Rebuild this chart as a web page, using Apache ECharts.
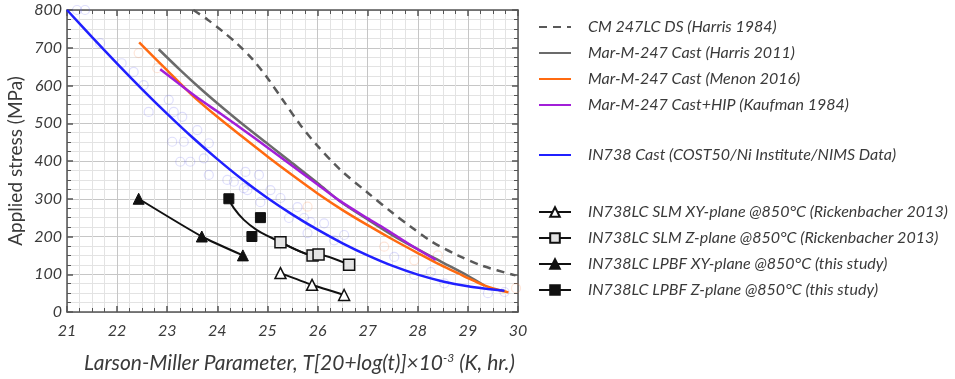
<!DOCTYPE html>
<html>
<head>
<meta charset="utf-8">
<script src="https://cdn.jsdelivr.net/npm/echarts@6/dist/echarts.min.js"></script>
<style>
  html, body { margin: 0; padding: 0; background: #fff; }
  #chart { width: 955px; height: 379px; }
</style>
</head>
<body>
<div id="chart"></div>
<script>
// Larson-Miller parameter (x) vs applied stress in MPa (y)
const cm247DS = [[23.52,800],[23.8,775],[24.1,744],[24.4,710],[24.7,670],[25.0,620],[25.3,563],[25.66,495],[26.0,440],[26.46,376],[27.0,316],[27.5,262],[27.86,226],[28.26,188],[28.8,150],[29.3,122],[29.95,97]];
const marM247Harris = [[22.83,696],[23.25,642],[23.66,592],[24.0,553],[24.5,498],[25.0,446],[25.5,394],[26.0,342],[26.46,292],[27.0,245],[27.5,203],[28.0,166],[28.5,131],[29.0,96],[29.33,70]];
const marM247Menon = [[22.44,714],[23.0,640],[23.5,574],[24.0,517],[24.5,464],[25.0,412],[25.5,362],[26.0,314],[26.5,270],[27.0,230],[27.5,192],[28.0,156],[28.4,128],[28.8,103],[29.0,90],[29.3,72],[29.6,59],[29.81,52]];
const marM247HIP = [[22.86,643],[23.25,603],[23.66,562],[24.06,526],[24.5,484],[25.0,436],[25.5,387],[26.0,338],[26.46,293],[27.0,248],[27.33,222],[27.8,182],[28.36,138]];
const in738Cast = [[21.0,800],[21.5,728],[22.0,658],[22.5,590],[23.0,525],[23.5,463],[24.0,405],[24.5,351],[25.0,302],[25.5,258],[26.0,218],[26.5,182],[27.0,150],[27.5,122],[28.0,99],[28.5,81],[29.0,68],[29.4,61],[29.73,56]];

// IN738 cast individual rupture points and Mar-M-247 points (faint background data)
const in738Points = [[21.2,800],[21.36,800],[21.66,712],[22.09,659],[22.33,636],[22.53,601],[23.03,562],[22.63,530],[23.13,530],[23.3,517],[23.1,451],[23.33,451],[23.6,482],[23.83,447],[23.26,398],[23.46,398],[23.73,407],[23.83,363],[24.2,350],[24.33,345],[24.56,371],[24.6,323],[24.86,291],[25.26,302],[25.6,278],[25.43,249],[25.73,249],[25.86,238],[26.13,235],[25.8,209],[26.33,190],[26.53,204],[24.53,328],[24.83,363],[25.06,323],[27.53,146],[27.93,98],[28.26,106],[28.53,76],[29.4,50],[29.73,53]];
const marM247Points = [[22.43,686],[22.8,646],[25.8,279],[27.33,173],[27.93,137],[28.4,150],[29.96,63]];

// Additively manufactured IN738LC at 850 °C
const slmXY = [[25.26,103],[25.89,72],[26.53,45]];
const slmZ = [[25.26,185],[25.9,150],[26.02,152],[26.63,125]];
const lpbfXY = [[22.43,300],[23.69,200],[24.51,150]];
const lpbfZ = [[24.23,300],[24.69,200],[24.86,250]];
const lpbfZTrend = [[24.23,300],[24.33,275],[24.53,244],[24.79,217],[25.06,198],[25.26,185],[25.66,160],[25.86,151]];

const xTicks = { min: 21, max: 30, step: 1 };
const yTicks = { min: 0, max: 800, step: 100 };

const names = [
  'CM 247LC DS (Harris 1984)',
  'Mar-M-247 Cast (Harris 2011)',
  'Mar-M-247 Cast (Menon 2016)',
  'Mar-M-247 Cast+HIP (Kaufman 1984)',
  'IN738 Cast (COST50/Ni Institute/NIMS Data)',
  'IN738LC SLM XY-plane @850°C (Rickenbacher 2013)',
  'IN738LC SLM Z-plane @850°C (Rickenbacher 2013)',
  'IN738LC LPBF XY-plane @850°C (this study)',
  'IN738LC LPBF Z-plane @850°C (this study)'
];

const FONT = 'Lato';
const TXT = '#3a3a3a';
const AXIS = '#555';

function mainAxis(extra) {
  return Object.assign({
    type: 'value',
    axisLine: { show: true, onZero: false, lineStyle: { color: AXIS, width: 1.5 } },
    axisTick: { show: true, inside: true, length: 6, lineStyle: { color: AXIS, width: 1.5 } },
    minorTick: { show: true, splitNumber: 4, length: 4, lineStyle: { color: AXIS, width: 1 } },
    splitLine: { show: true, lineStyle: { color: '#c6c6c6', width: 1 } },
    minorSplitLine: { show: true, lineStyle: { color: '#e3e3e3', width: 1 } }
  }, extra);
}
function mirrorAxis(extra) {
  return Object.assign({
    type: 'value',
    axisLine: { show: true, onZero: false, lineStyle: { color: AXIS, width: 1.5 } },
    axisTick: { show: true, inside: true, length: 6, lineStyle: { color: AXIS, width: 1.5 } },
    minorTick: { show: true, splitNumber: 4, length: 4, lineStyle: { color: AXIS, width: 1 } },
    axisLabel: { show: false },
    splitLine: { show: false },
    minorSplitLine: { show: false }
  }, extra);
}

// plain-line entries hide the legend marker, keeping only the line
const noMark = { color: 'rgba(0,0,0,0)', borderColor: 'rgba(0,0,0,0)', borderWidth: 0 };
function lineOnly(name) { return { name: name, itemStyle: noMark }; }

const legendText = { fontFamily: FONT, fontStyle: 'italic', fontSize: 16, color: TXT, padding: [0, 0, 0, 12] };
function legendBlock(top, data) {
  return {
    orient: 'vertical', left: 533, top: top, itemGap: 10, itemWidth: 32, itemHeight: 12,
    textStyle: legendText, data: data, selectedMode: false
  };
}

function curve(name, data, color, dashed) {
  return {
    type: 'line', name: name, data: data, smooth: 0.3, showSymbol: false, symbol: 'circle', z: 3,
    lineStyle: { color: color, width: 2.5, type: dashed ? [8, 6] : 'solid' }, itemStyle: { color: color }
  };
}

const chart = echarts.init(document.getElementById('chart'), null, { renderer: 'canvas' });
chart.setOption({
  animation: false,
  backgroundColor: '#fff',
  grid: { left: 67, right: 437, top: 10, bottom: 67, containLabel: false },
  legend: [
    legendBlock(14, names.slice(0, 4).map(lineOnly)),
    legendBlock(142, names.slice(4, 5).map(lineOnly)),
    legendBlock(199, names.slice(5, 9))
  ],
  xAxis: [
    mainAxis({
      position: 'bottom', min: xTicks.min, max: xTicks.max, interval: xTicks.step,
      axisLabel: { fontFamily: FONT, fontStyle: 'italic', fontSize: 16, color: TXT, margin: 11 },
      name: 'Larson-Miller Parameter, T[20+log(t)]×10{sup|-3} (K, hr.)',
      nameLocation: 'middle', nameGap: 40,
      nameTextStyle: {
        fontFamily: FONT, fontStyle: 'italic', fontSize: 21, color: TXT, padding: [0, 0, 0, 14],
        rich: { sup: { fontFamily: FONT, fontStyle: 'italic', fontSize: 12, color: TXT, verticalAlign: 'top', padding: [0, 0, 10, 0] } }
      }
    }),
    mirrorAxis({ position: 'top', min: xTicks.min, max: xTicks.max, interval: xTicks.step })
  ],
  yAxis: [
    mainAxis({
      position: 'left', min: yTicks.min, max: yTicks.max, interval: yTicks.step,
      axisLabel: { fontFamily: FONT, fontStyle: 'italic', fontSize: 16, color: TXT, margin: 5 },
      name: 'Applied stress (MPa)', nameLocation: 'middle', nameGap: 42, nameRotate: 90,
      nameTextStyle: { fontFamily: FONT, fontSize: 19, color: TXT }
    }),
    mirrorAxis({ position: 'right', min: yTicks.min, max: yTicks.max, interval: yTicks.step })
  ],
  series: [
    { type: 'scatter', name: '_in738pts', data: in738Points, symbol: 'circle', symbolSize: 9, silent: true, z: 1,
      itemStyle: { color: 'rgba(0,0,0,0)', borderColor: 'rgba(110,110,240,0.22)', borderWidth: 1.2, opacity: 1 } },
    { type: 'scatter', name: '_marpts', data: marM247Points, symbol: 'circle', symbolSize: 9, silent: true, z: 1,
      itemStyle: { color: 'rgba(0,0,0,0)', borderColor: 'rgba(250,140,80,0.22)', borderWidth: 1.2, opacity: 1 } },

    curve(names[0], cm247DS, '#595959', true),
    curve(names[1], marM247Harris, '#6b6b6b', false),
    curve(names[2], marM247Menon, '#ff6a10', false),
    curve(names[3], marM247HIP, '#a21fd8', false),
    curve(names[4], in738Cast, '#2020ff', false),

    { type: 'line', name: names[5], data: slmXY, smooth: 0.2, symbol: 'triangle', symbolSize: 11, showSymbol: true, z: 5,
      lineStyle: { color: '#111', width: 2 }, itemStyle: { color: '#fff', borderColor: '#111', borderWidth: 1.5 } },
    { type: 'line', name: names[6], data: slmZ, smooth: 0.2, symbol: 'rect', symbolSize: 11, showSymbol: true, z: 5,
      lineStyle: { color: '#111', width: 2 }, itemStyle: { color: '#e4e4e4', borderColor: '#111', borderWidth: 1.5 } },
    { type: 'line', name: names[7], data: lpbfXY, smooth: 0.2, symbol: 'triangle', symbolSize: 11, showSymbol: true, z: 5,
      lineStyle: { color: '#111', width: 2 }, itemStyle: { color: '#111', borderColor: '#111', borderWidth: 1 } },
    { type: 'line', name: names[8], data: lpbfZTrend, smooth: 0.4, symbol: 'rect', symbolSize: 10, showSymbol: false, z: 4,
      lineStyle: { color: '#111', width: 2 }, itemStyle: { color: '#111', borderColor: '#111', borderWidth: 1 } },
    { type: 'scatter', name: names[8], data: lpbfZ, symbol: 'rect', symbolSize: 10, z: 5,
      itemStyle: { color: '#111', borderColor: '#111', borderWidth: 1, opacity: 1 } }
  ]
});
</script>
</body>
</html>
